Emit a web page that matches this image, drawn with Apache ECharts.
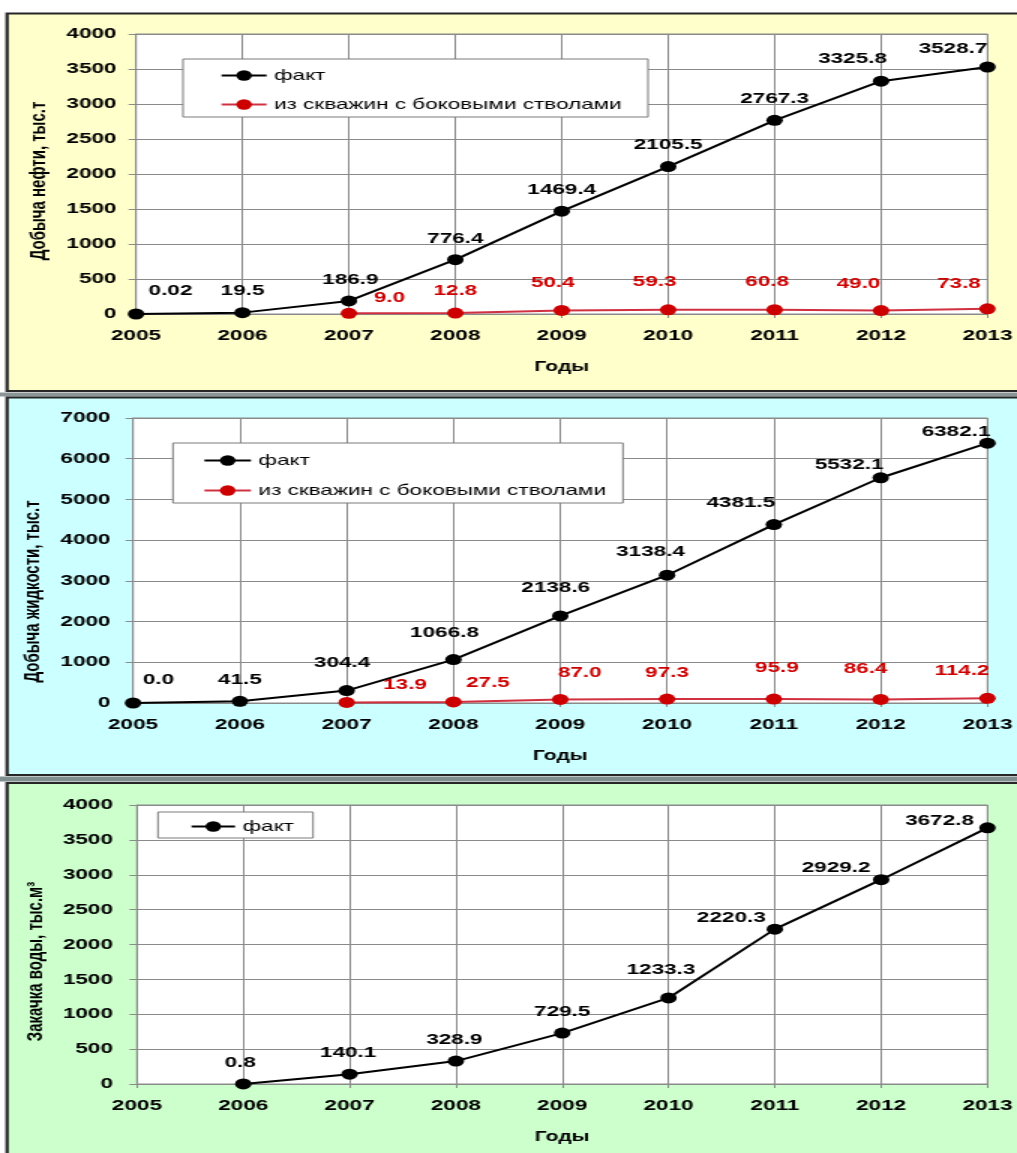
<!DOCTYPE html>
<html>
<head>
<meta charset="utf-8">
<script src="https://cdn.jsdelivr.net/npm/echarts@6/dist/echarts.min.js"></script>
<style>
  html, body { margin: 0; padding: 0; background: #ffffff; overflow: hidden; }
  #wrap { width: 1017px; height: 1153px; overflow: hidden; }
  /* chart drawn narrow, then widened to the page */
  #chart { width: 678px; height: 1153px; transform: scaleX(1.5); transform-origin: 0 0; }
</style>
</head>
<body>
<div id="wrap"><div id="chart"></div></div>
<script>
// Years on the horizontal axis
const years = ['2005', '2006', '2007', '2008', '2009', '2010', '2011', '2012', '2013'];

// Oil production, thousand tonnes
const oilFact = [0.02, 19.5, 186.9, 776.4, 1469.4, 2105.5, 2767.3, 3325.8, 3528.7];
const oilSidetrack = [null, null, 9.0, 12.8, 50.4, 59.3, 60.8, 49.0, 73.8];

// Liquid production, thousand tonnes
const liquidFact = [0.0, 41.5, 304.4, 1066.8, 2138.6, 3138.4, 4381.5, 5532.1, 6382.1];
const liquidSidetrack = [null, null, 13.9, 27.5, 87.0, 97.3, 95.9, 86.4, 114.2];

// Water injection, thousand m3
const injectionFact = [null, 0.8, 140.1, 328.9, 729.5, 1233.3, 2220.3, 2929.2, 3672.8];

// Value-axis ranges
const oilAxis = { max: 4000, step: 500 };
const liquidAxis = { max: 7000, step: 1000 };
const injectionAxis = { max: 4000, step: 500 };

// Label nudges [dx, dy] so the value tags do not collide with the lines
const oilFactShift = [[23, -2], [0, -1], [1, 0], [0, 0], [0, 0], [0, -1], [0, 0], [-19, -1], [-23, 3]];
const oilSideShift = [null, null, [27, 5], [0, -1], [-6, -7], [-9, -7], [-5, -7], [-15, -6], [-19, -4]];
const liquidFactShift = [[17, -2], [0, 0], [-3, -7], [-6, -6], [-3, -7], [-11, -2], [-22, -1], [-21, 8], [-21, 10]];
const liquidSideShift = [null, null, [39, 3], [23, 2], [13, -6], [0, -5], [2, -10], [-10, -10], [-17, -6]];
const injectionShift = [null, [-2, 0], [-1, 0], [-1, 0], [0, 0], [-5, -7], [-29, 10], [-30, 9], [-32, 14]];

const FONT = '"Liberation Sans", Arial, sans-serif';
const GRID_GRAY = '#8a8a8a';
const BLACK = '#000000';
const RED = '#cc0000';

function fmt(v) {
  const t = v * 10;
  return Math.abs(t - Math.round(t)) < 1e-6 ? v.toFixed(1) : String(v);
}

function pointData(values, shifts) {
  return values.map((v, i) => v == null ? null : {
    value: v,
    label: { offset: shifts[i] }
  });
}

function lineSeries(name, values, shifts, color, lineColor, gridIndex) {
  return {
    type: 'line',
    name: name,
    xAxisIndex: gridIndex,
    yAxisIndex: gridIndex,
    data: pointData(values, shifts),
    symbol: 'circle',
    symbolSize: 11,
    showAllSymbol: true,
    lineStyle: { color: lineColor, width: 2 },
    itemStyle: { color: color },
    emphasis: { disabled: true },
    animation: false,
    label: {
      show: true,
      position: 'top',
      distance: 8,
      color: color,
      fontFamily: FONT,
      fontWeight: 'bold',
      fontSize: 15,
      formatter: p => fmt(p.value)
    },
    z: 3
  };
}

const grids = [
  { left: 90.7, right: 19.3, top: 34, height: 280 },
  { left: 88.7, right: 19.3, top: 418, height: 285 },
  { left: 91.3, right: 18.7, top: 805, height: 279 }
];

function xAxis(gridIndex) {
  return {
    type: 'category',
    gridIndex: gridIndex,
    data: years,
    boundaryGap: false,
    name: 'Годы',
    nameLocation: 'middle',
    nameGap: 46,
    nameTextStyle: { fontFamily: FONT, fontWeight: 'bold', fontSize: 14, color: BLACK },
    axisLine: { lineStyle: { color: GRID_GRAY, width: 1 } },
    axisTick: { show: true, length: 4, lineStyle: { color: GRID_GRAY } },
    axisLabel: { margin: 14, fontFamily: FONT, fontWeight: 'bold', fontSize: 15, color: BLACK },
    splitLine: { show: true, lineStyle: { color: GRID_GRAY, width: 1 } }
  };
}

function yAxis(gridIndex, range, name, gap, margin, pad) {
  return {
    type: 'value',
    gridIndex: gridIndex,
    min: 0,
    max: range.max,
    interval: range.step,
    name: name,
    nameLocation: 'middle',
    nameRotate: 90,
    nameGap: gap,
    nameTextStyle: { fontFamily: FONT, fontWeight: 'bold', fontSize: 15, color: BLACK, padding: pad },
    axisLine: { show: true, lineStyle: { color: GRID_GRAY, width: 1 } },
    axisTick: { show: true, length: 5, lineStyle: { color: GRID_GRAY } },
    axisLabel: {
      margin: margin, fontFamily: FONT, fontWeight: 'bold', fontSize: 15, color: BLACK,
      formatter: v => String(v)
    },
    splitLine: { show: true, lineStyle: { color: GRID_GRAY, width: 1 } }
  };
}

function legend(names, left, top, itemWidth, gap) {
  return {
    data: names,
    orient: 'vertical',
    left: left,
    top: top,
    itemWidth: itemWidth,
    itemHeight: 13,
    itemGap: gap,
    selectedMode: false,
    padding: 0,
    textStyle: { fontFamily: FONT, fontSize: 15, color: BLACK },
    z: 5
  };
}

const PANEL_STROKE = '#262626';
const graphics = [
  // panel backgrounds
  { type: 'rect', shape: { x: 4.7, y: 13.5, width: 700, height: 377.5 }, style: { fill: '#ffffcc', stroke: PANEL_STROKE, lineWidth: 2.2 }, z: -20 },
  { type: 'rect', shape: { x: 0, y: 392.5, width: 700, height: 4 }, style: { fill: '#8c9595' }, z: -21 },
  { type: 'rect', shape: { x: 4.7, y: 397.5, width: 700, height: 377.5 }, style: { fill: '#ccffff', stroke: PANEL_STROKE, lineWidth: 2.2 }, z: -20 },
  { type: 'rect', shape: { x: 0, y: 776.5, width: 700, height: 5 }, style: { fill: '#7f8f8f' }, z: -21 },
  { type: 'rect', shape: { x: 4.7, y: 783, width: 700, height: 380 }, style: { fill: '#ccffcc', stroke: PANEL_STROKE, lineWidth: 2.2 }, z: -20 },
  // legend frames
  { type: 'rect', shape: { x: 122, y: 59, width: 310, height: 58 }, style: { fill: '#ffffff', stroke: '#7a7a7a', lineWidth: 1 }, z: 4 },
  { type: 'rect', shape: { x: 115.3, y: 443, width: 300, height: 60 }, style: { fill: '#ffffff', stroke: '#7a7a7a', lineWidth: 1 }, z: 4 },
  { type: 'rect', shape: { x: 105.3, y: 812, width: 103.4, height: 26 }, style: { fill: '#ffffff', stroke: '#7a7a7a', lineWidth: 1 }, z: 4 }
];

const FACT = 'факт';
const SIDE = 'из скважин с боковыми стволами';

const option = {
  backgroundColor: '#ffffff',
  animation: false,
  graphic: { elements: graphics },
  grid: grids.map(g => Object.assign({ show: true, backgroundColor: '#ffffff', borderColor: GRID_GRAY, borderWidth: 1, containLabel: false }, g)),
  xAxis: [xAxis(0), xAxis(1), xAxis(2)],
  yAxis: [
    yAxis(0, oilAxis, 'Добыча нефти, тыс.т', 55, 13, [0, 14, 0, 0]),
    yAxis(1, liquidAxis, 'Добыча жидкости, тыс.т', 56, 15, [0, 62, 0, 0]),
    yAxis(2, injectionAxis, 'Закачка воды, тыс.м³', 57, 16, [0, 34, 0, 0])
  ],
  legend: [
    legend([FACT, SIDE], 146.7, 68, 30, 14),
    legend([FACT, SIDE], 135.3, 453, 31, 15),
    legend([FACT], 126.7, 819, 29, 10)
  ],
  series: [
    lineSeries(FACT, oilFact, oilFactShift, BLACK, BLACK, 0),
    lineSeries(SIDE, oilSidetrack, oilSideShift, RED, '#d03040', 0),
    lineSeries(FACT, liquidFact, liquidFactShift, BLACK, BLACK, 1),
    lineSeries(SIDE, liquidSidetrack, liquidSideShift, RED, '#d03040', 1),
    lineSeries(FACT, injectionFact, injectionShift, BLACK, BLACK, 2)
  ]
};

const chart = echarts.init(document.getElementById('chart'), null, { renderer: 'canvas', width: 678, height: 1153 });
chart.setOption(option);
</script>
</body>
</html>
